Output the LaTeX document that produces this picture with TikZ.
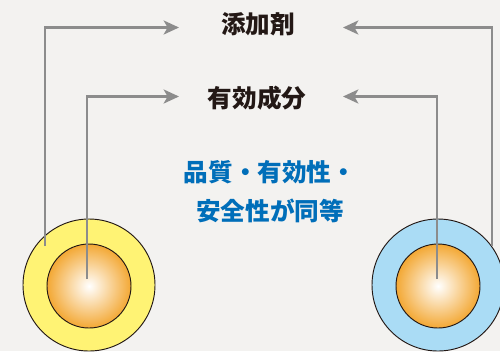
\documentclass[tikz,border=0pt]{standalone}
\usepackage{fontspec}
\newfontfamily\cjk{Noto Sans CJK JP}
\usetikzlibrary{arrows.meta}
\definecolor{bgpaper}{RGB}{243,242,240}
\definecolor{linegray}{RGB}{140,140,140}
\definecolor{ringyellow}{RGB}{255,243,116}
\definecolor{ringblue}{RGB}{170,220,245}
\definecolor{coreorange}{RGB}{243,168,52}
\definecolor{inkdark}{RGB}{35,24,21}
\definecolor{inkblue}{RGB}{0,110,185}

\begin{document}
\begin{tikzpicture}[x=0.3mm,y=-0.3mm,
    ringline/.style={draw=inkdark,line width=0.8pt},
    feed/.style={draw=linegray,line width=2.2pt,-{Stealth[length=4.6mm,width=4.2mm,inset=1.2mm]}},
    termtext/.style={inner sep=0pt,text=inkdark,font=\cjk\bfseries\fontsize{21}{21}\selectfont},
    claimtext/.style={inner sep=0pt,text=inkblue,font=\cjk\bfseries\fontsize{21}{21}\selectfont}]
    \fill[bgpaper] (0,0) rectangle (500,351);
    \clip (0,0) rectangle (500,351);
    % two particles: coating ring and core
    \foreach \cx/\ring in {89/ringyellow,438/ringblue} {
      \draw[ringline,fill=\ring] (\cx,285) circle (66);
      \draw[ringline,inner color=white,outer color=coreorange] (\cx,286) circle (42);
    }
    \node[termtext] (additive) at (258,24) {添加剤};
    \node[termtext] (active) at (257,98) {有効成分};
    \node[claimtext] (claimA) at (270,172) {品質・有効性・};
    \node[claimtext] (claimB) at (270,211) {安全性が同等};
    \coordinate (addL) at (45,246);
    \coordinate (addR) at (492,246);
    \coordinate (actL) at (87,279);
    \coordinate (actR) at (437,279);
    \coordinate (addLtip) at (179,27.5);
    \coordinate (addRtip) at (343,27.5);
    \coordinate (actLtip) at (179,96.5);
    \coordinate (actRtip) at (343,96.5);
    \foreach \from/\to in {addL/addLtip,addR/addRtip,actL/actLtip,actR/actRtip} {
      \draw[feed] (\from) |- (\to);
    }
\end{tikzpicture}
\end{document}
